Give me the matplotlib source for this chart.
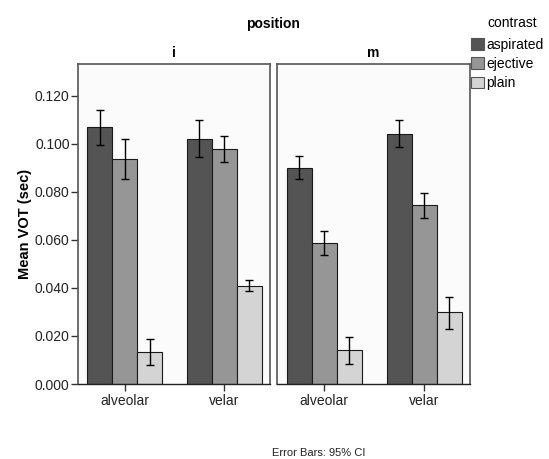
import matplotlib.pyplot as plt
import numpy as np

plt.rcParams["font.family"] = ["Liberation Sans", "DejaVu Sans"]

places = ["alveolar", "velar"]
contrasts = ["aspirated", "ejective", "plain"]
positions = ["i", "m"]
colors = ["#545454", "#969696", "#d4d4d4"]

# rows = contrast (aspirated, ejective, plain), columns = place (alveolar, velar)
mean_i = [[0.1071, 0.1022], [0.0938, 0.0980], [0.0133, 0.0410]]
lower_i = [[0.0997, 0.0947], [0.0856, 0.0926], [0.0078, 0.0386]]
upper_i = [[0.1143, 0.1098], [0.1020, 0.1032], [0.0186, 0.0434]]

mean_m = [[0.0901, 0.1042], [0.0589, 0.0745], [0.0140, 0.0298]]
lower_m = [[0.0852, 0.0986], [0.0538, 0.0692], [0.0084, 0.0231]]
upper_m = [[0.0950, 0.1098], [0.0639, 0.0797], [0.0196, 0.0362]]

yticks = [0.0, 0.02, 0.04, 0.06, 0.08, 0.10, 0.12]

W, H = 549, 459
fig = plt.figure(figsize=(W / 100, H / 100), dpi=100)

panels = [
    (78, 192, mean_i, lower_i, upper_i),
    (277, 193, mean_m, lower_m, upper_m),
]

x = np.arange(len(places))
width = 0.25
handles = []

for k, (left, pw, means, lows, ups) in enumerate(panels):
    ax = fig.add_axes([left / W, 1 - 384 / H, pw / W, 320 / H])
    ax.set_facecolor("#fbfbfb")

    for j, name in enumerate(contrasts):
        means_j = np.array(means[j])
        err = [means_j - np.array(lows[j]), np.array(ups[j]) - means_j]
        bars = ax.bar(
            x + (j - 1) * width,
            means_j,
            width,
            color=colors[j],
            edgecolor="#1a1a1a",
            linewidth=0.8,
            label=name
        )
        ax.errorbar(
            x + (j - 1) * width,
            means_j,
            yerr=err,
            fmt="none",
            ecolor="black",
            elinewidth=1,
            capsize=3,
            capthick=1
        )
        if k == 0:
            handles.append(bars)

    ax.set_xlim(-0.47, 1.46)
    ax.set_ylim(0, 0.1333)
    ax.set_xticks(x)
    ax.set_xticklabels(places, fontsize=10, color="#222222")
    ax.tick_params(axis="x", length=5, width=1, color="#333333", pad=2)

    for side in ["left", "right", "top"]:
        ax.spines[side].set_color("#555555")
        ax.spines[side].set_linewidth(1.2)
    ax.spines["bottom"].set_color("#222222")
    ax.spines["bottom"].set_linewidth(1)

    ax.set_title(positions[k], fontsize=10, fontweight="bold", pad=5)

    if k == 0:
        ax.set_yticks(yticks)
        ax.set_yticklabels([f"{v:.3f}" for v in yticks], fontsize=10, color="#222222")
        ax.tick_params(axis="y", length=5, width=1, color="#333333", pad=1)
        ax.set_ylabel("Mean VOT (sec)", fontsize=10.5, fontweight="bold", labelpad=2)
    else:
        ax.set_yticks([])

fig.text(273 / W, 1 - 24 / H, "position", fontsize=10, fontweight="bold",
         ha="center", va="center")

fig.text(512 / W, 1 - 23 / H, "contrast", fontsize=10, ha="center", va="center")

leg = fig.legend(
    handles,
    contrasts,
    loc="upper left",
    bbox_to_anchor=(471 / W, 1 - 38 / H),
    frameon=False,
    fontsize=10,
    handlelength=0.95,
    handleheight=0.95,
    handletextpad=0.15,
    labelspacing=0.37,
    borderpad=0,
    borderaxespad=0
)
for patch in leg.get_patches():
    patch.set_edgecolor("#555555")

fig.text(319 / W, 1 - 453 / H, "Error Bars: 95% CI", fontsize=8,
         ha="center", va="center", color="#222222")

plt.savefig("out.png", dpi=100)
plt.close()
